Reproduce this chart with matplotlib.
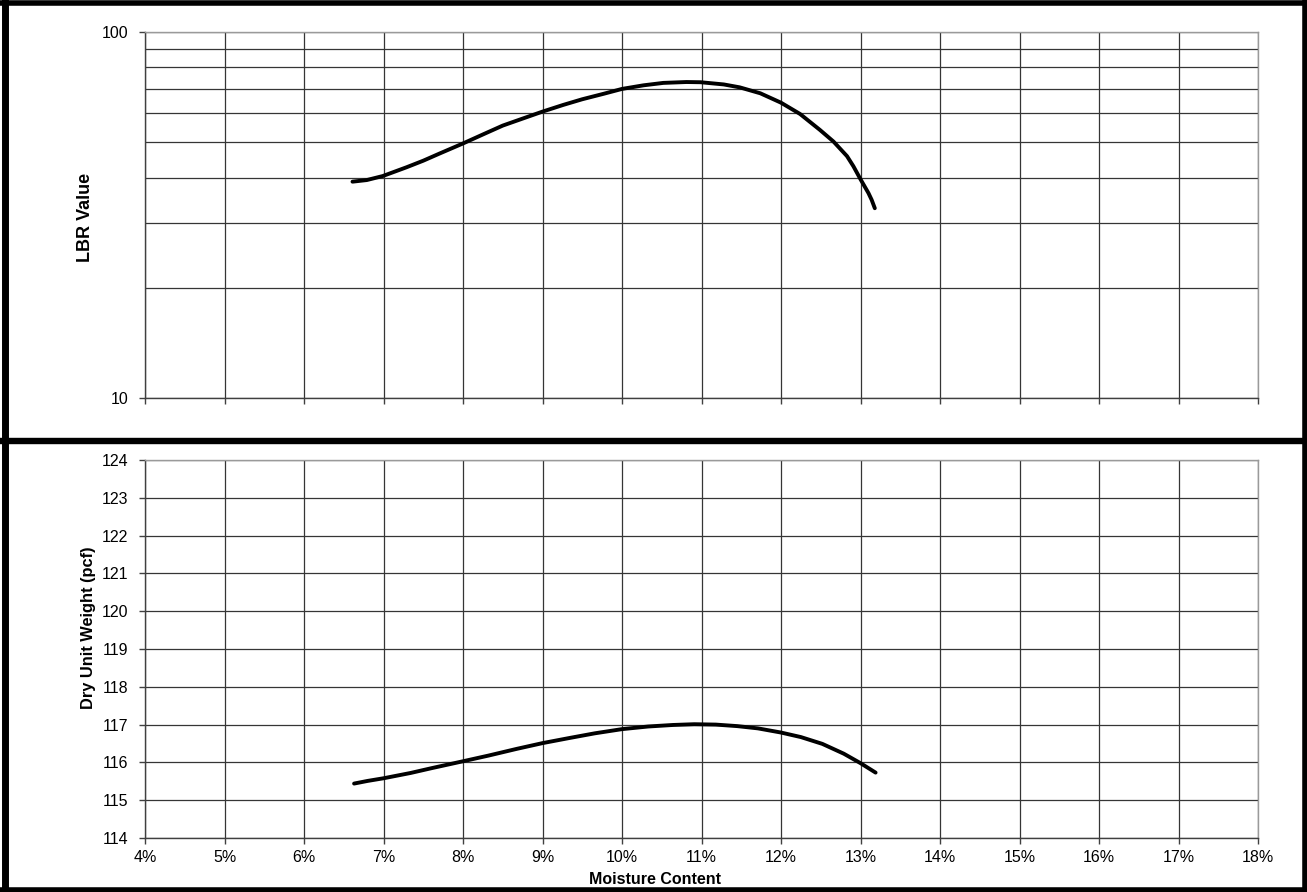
import matplotlib
matplotlib.use("Agg")
import matplotlib.pyplot as plt
from matplotlib.ticker import FixedLocator, FuncFormatter, NullFormatter
from matplotlib.lines import Line2D

plt.rcParams['font.family'] = ['Liberation Sans', 'DejaVu Sans']

# Moisture content (%) and LBR value along the smoothed LBR curve
lbr_moisture = [6.61, 6.79, 6.99, 7.29, 7.50, 7.71, 8.00, 8.26, 8.50, 8.76,
                9.00, 9.26, 9.50, 9.77, 10.00, 10.27, 10.52, 10.81, 10.99,
                11.28, 11.48, 11.74, 12.00, 12.24, 12.49, 12.66, 12.83,
                12.91, 13.00, 13.10, 13.14, 13.18]
lbr_value = [39.0, 39.4, 40.4, 42.7, 44.5, 46.6, 49.6, 52.6, 55.5, 58.1,
             60.6, 63.2, 65.5, 67.8, 69.9, 71.5, 72.6, 73.0, 72.9,
             71.9, 70.6, 68.0, 64.1, 59.7, 54.0, 50.2, 45.8,
             43.0, 39.6, 36.3, 34.8, 33.0]

# Moisture content (%) and dry unit weight (pcf) along the proctor curve
dry_moisture = [6.63, 6.80, 7.00, 7.34, 7.61, 8.00, 8.32, 8.68, 9.00, 9.35,
                9.66, 10.00, 10.33, 10.64, 10.91, 11.18, 11.45, 11.71, 12.00,
                12.25, 12.52, 12.79, 13.00, 13.19]
dry_weight = [115.44, 115.51, 115.58, 115.72, 115.85, 116.03, 116.18, 116.36,
              116.51, 116.65, 116.77, 116.88, 116.95, 116.99, 117.01, 117.00,
              116.96, 116.90, 116.79, 116.67, 116.49, 116.23, 115.98, 115.73]

x_ticks = list(range(4, 19))
lbr_major = [10, 100]
lbr_minor = [20, 30, 40, 50, 60, 70, 80, 90]
dry_ticks = list(range(114, 125))

W, H = 1307, 892
fig = plt.figure(figsize=(W / 100, H / 100), dpi=100)

left, right = 145 / W, 1258 / W
ax1 = fig.add_axes([left, 1 - 398 / H, right - left, (398 - 32) / H])
ax2 = fig.add_axes([left, 1 - 838 / H, right - left, (838 - 460) / H])

grid_kw = dict(color='#353535', linewidth=0.9)

def style(ax):
    ax.set_xlim(4, 18)
    ax.xaxis.set_major_locator(FixedLocator(x_ticks))
    ax.grid(True, which='major', axis='both', **grid_kw)
    ax.set_axisbelow(True)
    for side in ('left', 'bottom'):
        ax.spines[side].set_color('#404040')
        ax.spines[side].set_linewidth(1.0)
    for side in ('top', 'right'):
        ax.spines[side].set_color('#9a9a9a')
        ax.spines[side].set_linewidth(1.0)
    ax.tick_params(axis='both', which='major', direction='out', length=4,
                   width=1.0, color='#404040', labelsize=11.5)
    ax.tick_params(axis='y', which='major', pad=8)
    ax.tick_params(axis='x', which='major', pad=5)

# LBR panel
style(ax1)
ax1.set_yscale('log')
ax1.set_ylim(10, 100)
ax1.yaxis.set_major_locator(FixedLocator(lbr_major))
ax1.yaxis.set_minor_locator(FixedLocator(lbr_minor))
ax1.yaxis.set_major_formatter(FuncFormatter(lambda v, p: f"{v:g}"))
ax1.yaxis.set_minor_formatter(NullFormatter())
ax1.tick_params(axis='y', which='minor', length=0)
ax1.grid(True, which='minor', axis='y', **grid_kw)
ax1.xaxis.set_major_formatter(NullFormatter())
ax1.plot(lbr_moisture, lbr_value, color='black', linewidth=2.8,
         solid_capstyle='round', solid_joinstyle='round', zorder=5)

# Dry unit weight panel
style(ax2)
ax2.set_ylim(114, 124)
ax2.yaxis.set_major_locator(FixedLocator(dry_ticks))
ax2.xaxis.set_major_formatter(FuncFormatter(lambda v, p: f"{v:.0f}%"))
ax2.plot(dry_moisture, dry_weight, color='black', linewidth=2.8,
         solid_capstyle='round', solid_joinstyle='round', zorder=5)

# Axis titles
fig.text(86 / W, 1 - 217 / H, 'LBR Value', rotation=90, fontsize=13,
         fontweight='bold', ha='center', va='center')
fig.text(88 / W, 1 - 628 / H, 'Dry Unit Weight (pcf)', rotation=90,
         fontsize=11.8, fontweight='bold', ha='center', va='center')
fig.text(655 / W, 1 - 879 / H, 'Moisture Content', fontsize=11.5,
         fontweight='bold', ha='center', va='center')

# Heavy black frames around both chart boxes
def hline(y, lw):
    fig.add_artist(Line2D([0, 1], [1 - y / H] * 2, color='black', linewidth=lw,
                          transform=fig.transFigure))

def vline(x, y0, y1, lw):
    fig.add_artist(Line2D([x / W] * 2, [1 - y0 / H, 1 - y1 / H], color='black',
                          linewidth=lw, transform=fig.transFigure))

hline(2.5, 4.0)
hline(440.5, 4.6)
hline(889.5, 4.0)
vline(4.5, 0, H, 5.0)
vline(1304.5, 0, H, 4.0)

fig.savefig('out.png', dpi=100)
